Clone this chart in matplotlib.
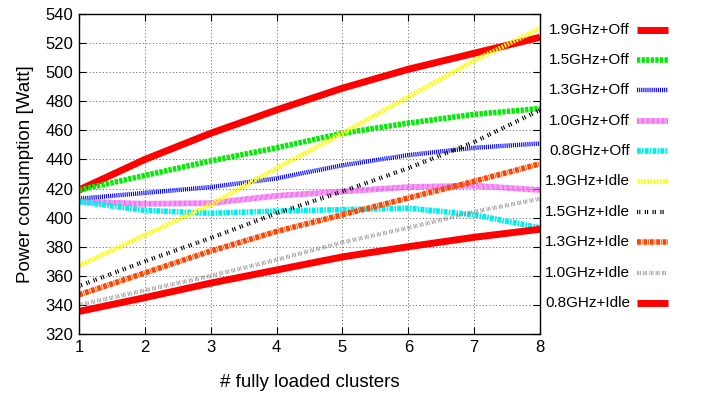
import matplotlib
matplotlib.use("Agg")
import matplotlib.pyplot as plt
from matplotlib.lines import Line2D

plt.rcParams['font.family'] = ['Liberation Sans', 'DejaVu Sans']
plt.rcParams['lines.scale_dashes'] = False

# number of fully loaded clusters
clusters = [1, 2, 3, 4, 5, 6, 7, 8]

# power consumption [Watt] per configuration
ghz19_off = [419, 440, 458, 474, 489, 502, 513, 524]
ghz15_off = [419, 429, 439, 448, 458, 465, 471, 475]
ghz13_off = [413, 417, 421, 427, 436, 443, 448, 451]
ghz10_off = [411, 409.5, 410, 415, 418, 421, 422, 419]
ghz08_off = [411, 405, 403, 404.5, 405.5, 406.5, 402, 393]
ghz19_idle = [367, 388, 409, 434, 458, 483, 508, 530]
ghz15_idle = [353, 370, 386, 403, 418, 434, 452, 474]
ghz13_idle = [347, 362, 377, 390.5, 402, 413.5, 425, 437]
ghz10_idle = [340, 350, 360, 371, 383, 393, 404, 413]
ghz08_idle = [335.5, 345, 355, 364, 373, 380, 386.5, 392]

labels = ["1.9GHz+Off", "1.5GHz+Off", "1.3GHz+Off", "1.0GHz+Off", "0.8GHz+Off",
          "1.9GHz+Idle", "1.5GHz+Idle", "1.3GHz+Idle", "1.0GHz+Idle", "0.8GHz+Idle"]
series = [ghz19_off, ghz15_off, ghz13_off, ghz10_off, ghz08_off,
          ghz19_idle, ghz15_idle, ghz13_idle, ghz10_idle, ghz08_idle]

# gnuplot-ish styles: (color, linewidth, dashes)
styles = [
    ("#ff0000", 5.0, None),
    ("#00ee00", 4.0, (2.4, 0.9)),
    ("#0000ff", 3.2, (0.8, 0.7)),
    ("#ee55ee", 4.2, (0.6, 0.3)),
    ("#00eeee", 4.0, (2.8, 0.8, 1.2, 0.8)),
    ("#ffff00", 3.4, (1.4, 0.9)),
    ("#000000", 3.0, (0.8, 0.8, 0.8, 3.2)),
    ("#ff4500", 4.0, (2.8, 0.6, 0.6, 0.6)),
    ("#888888", 3.0, (0.5, 0.6, 0.5, 0.6, 0.5, 1.8)),
    ("#ff0000", 5.0, None),
]

fig = plt.figure(figsize=(7.12, 3.96), dpi=100)
ax = fig.add_axes([79 / 712, 62 / 396, 461 / 712, 320 / 396])

for vals, (c, lw, d) in zip(series, styles):
    ln, = ax.plot(clusters, vals, color=c, lw=lw, solid_capstyle='butt')
    if d:
        ln.set_dashes(d)
        ln.set_dash_capstyle('butt')

ax.set_xlim(1, 8)
ax.set_ylim(320, 540)
ax.set_xticks(clusters)
ax.set_yticks(range(320, 541, 20))
ax.grid(True, color='#555555', linestyle=(0, (0.8, 1.6)), linewidth=0.6)
ax.tick_params(direction='in', length=5, width=0.8, labelsize=12,
               top=True, right=True, pad=4)
for s in ax.spines.values():
    s.set_linewidth(1.0)

ax.set_ylabel("Power consumption [Watt]", fontsize=13.5, labelpad=8)
ax.set_xlabel("# fully loaded clusters", fontsize=13.5, labelpad=14)

# legend outside on the right, text right-aligned, sample after it
W, H = 712, 396
for i, (lab, (c, lw, d)) in enumerate(zip(labels, styles)):
    y = 1 - (29.5 + i * 30.4) / H
    fig.text(630 / W, y, lab, ha='right', va='center', fontsize=11)
    ln = Line2D([637 / W, 668 / W], [y, y], transform=fig.transFigure,
                color=c, lw=lw, solid_capstyle='butt')
    if d:
        ln.set_dashes(d)
        ln.set_dash_capstyle('butt')
    fig.add_artist(ln)

fig.savefig("out.png", dpi=100)
